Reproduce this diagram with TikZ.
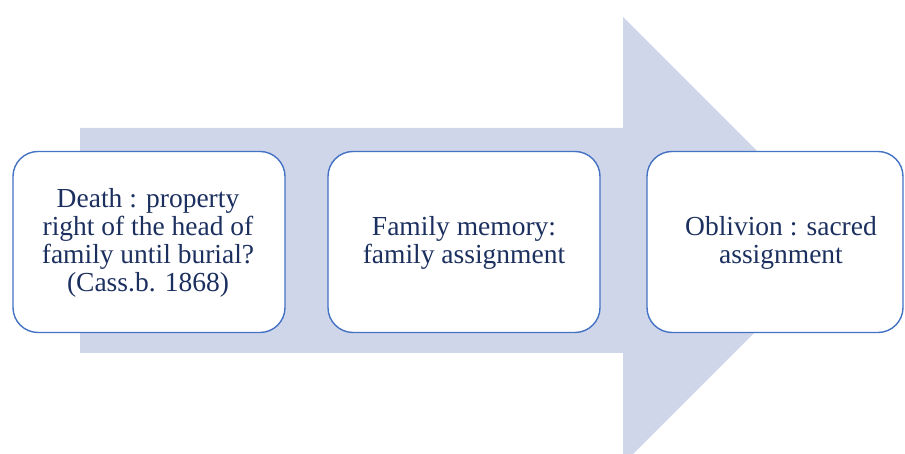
\documentclass[tikz,border=0pt]{standalone}
\usepackage{fontspec}
\setmainfont{Liberation Serif}
\definecolor{arrowfill}{RGB}{207,214,234}
\definecolor{boxline}{RGB}{68,114,196}
\definecolor{txt}{RGB}{28,48,95}
\begin{document}
\begin{tikzpicture}[x=1pt,y=1pt,
  stagebox/.style={draw=boxline, line width=1.4pt, fill=white, rounded corners=25pt,
     minimum height=181pt, inner sep=0pt},
  stagetext/.style={text=txt, align=center, font=\fontsize{27.5}{27.8}\selectfont, inner sep=0pt}]
\clip (0,0) rectangle (905,454);
% big arrow (image y flipped: y = 454 - y_img)
\fill[arrowfill] (80,326) -- (623,326) -- (623,437) -- (846.5,213.5) -- (623,-10) -- (623,101) -- (80,101) -- cycle;
% boxes
\node[stagebox, minimum width=272pt] (b1) at (149,212) {};
\node[stagebox, minimum width=272pt] (b2) at (464,212) {};
\node[stagebox, minimum width=256pt] (b3) at (775,212) {};
\node[stagetext] (t1) at (148,211) {Death : property\\right of the head of\\family until burial?\\(Cass.b. 1868)};
\node[stagetext] (t2) at (464,211) {Family memory:\\family assignment};
\node[stagetext] (t3) at (781,211) {Oblivion : sacred\\assignment};
\end{tikzpicture}
\end{document}
